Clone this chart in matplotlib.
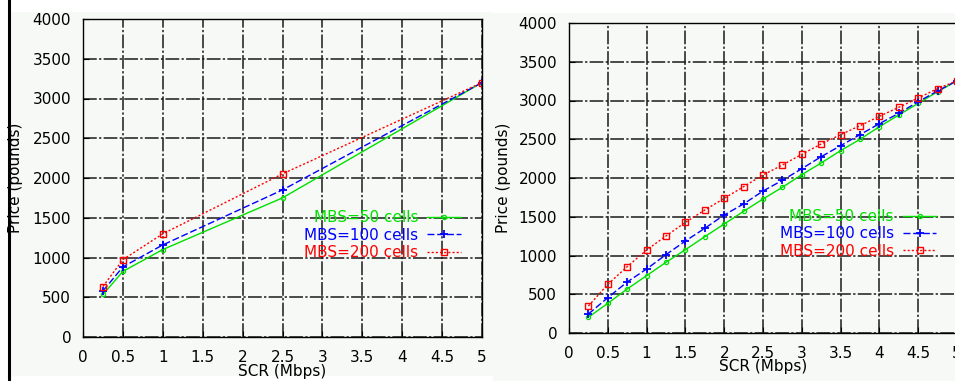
import matplotlib
matplotlib.use('Agg')
import matplotlib.pyplot as plt
import matplotlib.patches as patches
from matplotlib.lines import Line2D

# --- data: left panel (few SCR values) ---
scr_left = [0.25, 0.5, 1.0, 2.5, 5.0]
left_mbs50 = [535, 825, 1100, 1750, 3200]
left_mbs100 = [580, 882, 1158, 1850, 3200]
left_mbs200 = [635, 973, 1298, 2052, 3200]

# --- data: right panel (SCR step 0.25) ---
scr_right = [0.25, 0.5, 0.75, 1.0, 1.25, 1.5, 1.75, 2.0, 2.25, 2.5,
             2.75, 3.0, 3.25, 3.5, 3.75, 4.0, 4.25, 4.5, 4.75, 5.0]
right_mbs50 = [203, 383, 568, 740, 912, 1075, 1243, 1406, 1570, 1729,
               1880, 2043, 2194, 2353, 2499, 2662, 2813, 2963, 3114, 3255]
right_mbs100 = [245, 456, 658, 826, 1011, 1187, 1351, 1523, 1665, 1832,
                1970, 2120, 2275, 2417, 2559, 2701, 2835, 2985, 3123, 3255]
right_mbs200 = [348, 628, 856, 1071, 1252, 1428, 1587, 1738, 1888, 2039,
                2168, 2306, 2439, 2559, 2675, 2796, 2912, 3032, 3153, 3255]

labels = ['MBS=50 cells', 'MBS=100 cells', 'MBS=200 cells']
x_ticks = [0, 0.5, 1, 1.5, 2, 2.5, 3, 3.5, 4, 4.5, 5]
x_ticklabels = ['0', '0.5', '1', '1.5', '2', '2.5', '3', '3.5', '4', '4.5', '5']
y_ticks = [0, 500, 1000, 1500, 2000, 2500, 3000, 3500, 4000]

bg = '#f6f9f6'
W, H = 955, 381

fig = plt.figure(figsize=(W / 100, H / 100), dpi=100)
fig.patch.set_facecolor('white')

# screenshot-like backgrounds of the two pasted plots
fig.patches.append(patches.Rectangle((10 / W, (H - 376) / H), 483 / W, 364 / H,
                                     transform=fig.transFigure, facecolor=bg,
                                     edgecolor='none', zorder=-5))
fig.patches.append(patches.Rectangle((493 / W, 0), 462 / W, (H - 13) / H,
                                     transform=fig.transFigure, facecolor=bg,
                                     edgecolor='none', zorder=-5))
fig.lines.append(Line2D([8.5 / W, 8.5 / W], [0, 1], transform=fig.transFigure,
                        color='black', lw=2.2, zorder=-4))


def draw_panel(rect, scr, s50, s100, s200):
    ax = fig.add_axes(rect)
    ax.set_zorder(2)
    ax.set_facecolor(bg)
    ax.plot(scr, s50, color='#00e000', lw=1, ls='-', marker='o', ms=3,
            mfc='none', mew=0.9, label=labels[0])
    ax.plot(scr, s100, color='#0000ff', lw=1, ls=(0, (5, 2)), marker='+', ms=6,
            mew=1.3, label=labels[1])
    ax.plot(scr, s200, color='#ff0000', lw=1, ls=(0, (1.5, 1.5)), marker='s', ms=5,
            mfc='none', mew=1, label=labels[2])

    ax.set_xlim(0, 5)
    ax.set_ylim(0, 4000)
    ax.set_xticks(x_ticks)
    ax.set_xticklabels(x_ticklabels)
    ax.set_yticks(y_ticks)
    ax.tick_params(direction='in', length=4, labelsize=11, colors='black')
    ax.tick_params(axis='x', pad=9)
    ax.tick_params(axis='y', pad=8.5)
    ax.grid(True, color='#1a1a1a', lw=1.1, ls=(0, (9, 1.5, 1.5, 1.5)))
    ax.set_axisbelow(True)
    for s in ax.spines.values():
        s.set_linewidth(1)
        s.set_color('black')

    ax.set_xlabel('SCR (Mbps)', fontsize=11)
    ax.set_ylabel('Price (pounds)', fontsize=11)
    ax.xaxis.set_label_coords(0.5, -0.085)
    ax.yaxis.set_label_coords(-0.15, 0.5)

    ax.legend(loc='center right', bbox_to_anchor=(0.947, 0.32),
              markerfirst=False, frameon=False, fontsize=11,
              handlelength=2.2, handletextpad=0.6, labelspacing=0.15,
              borderpad=0, borderaxespad=0, labelcolor='linecolor')
    return ax


draw_panel([83 / W, (H - 337) / H, 399 / W, 318 / H],
           scr_left, left_mbs50, left_mbs100, left_mbs200)
draw_panel([569 / W, (H - 333) / H, 388 / W, 310 / H],
           scr_right, right_mbs50, right_mbs100, right_mbs200)

fig.savefig('out.png', dpi=100)
